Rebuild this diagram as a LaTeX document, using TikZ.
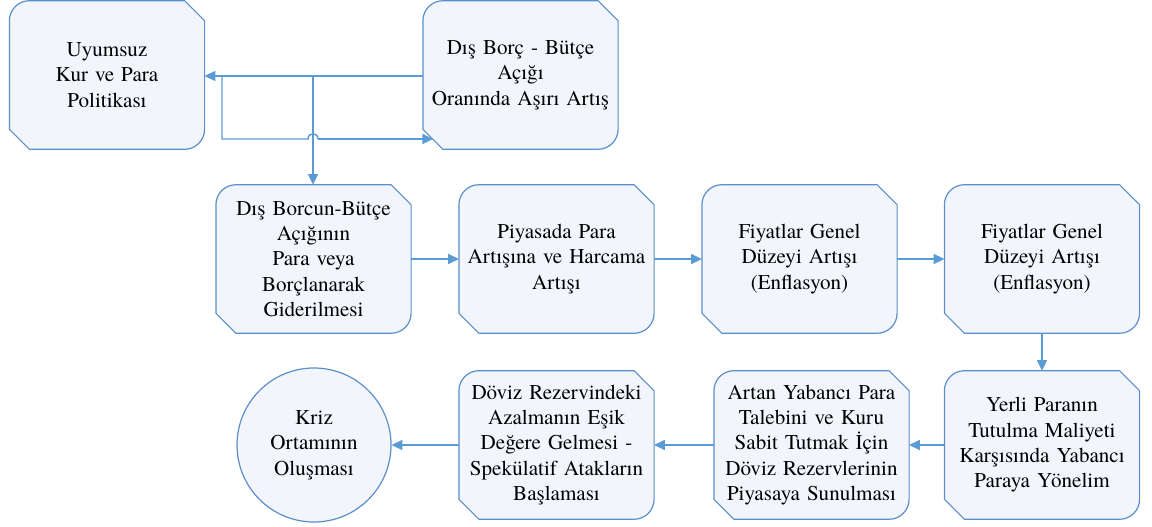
\documentclass[tikz,border=0pt]{standalone}
\usepackage{fontspec}
\setmainfont{texgyretermes-regular.otf}
\usetikzlibrary{arrows.meta,backgrounds}
\definecolor{edgeblue}{HTML}{5B8FCB}
\definecolor{arrowblue}{HTML}{5B9BD5}
\definecolor{tintblue}{HTML}{F2F5FB}
\tikzset{
  txtbox/.style={draw=none,inner sep=0pt,minimum width=146pt,minimum height=111pt,
    text width=146pt,align=center,font=\fontsize{15.8}{19}\selectfont},
  outline/.style={draw=edgeblue,line width=0.9pt,fill=tintblue},
  arr/.style={draw=arrowblue,line width=1.1pt,-{Triangle[length=8pt,width=7.5pt]}},
  plainline/.style={draw=arrowblue,line width=1.1pt},
}
\newcommand\snipshape[1]{%
  \path[outline] ([yshift=-15pt]#1.north west)
    .. controls ([yshift=-6.7pt]#1.north west) and ([xshift=6.7pt]#1.north west) .. ([xshift=15pt]#1.north west)
    -- ([xshift=-15pt]#1.north east) -- ([yshift=-15pt]#1.north east)
    -- ([yshift=15pt]#1.south east)
    .. controls ([yshift=6.7pt]#1.south east) and ([xshift=-6.7pt]#1.south east) .. ([xshift=-15pt]#1.south east)
    -- ([xshift=15pt]#1.south west) -- ([yshift=15pt]#1.south west) -- cycle;}
\begin{document}
\begin{tikzpicture}[x=0.75pt,y=-0.75pt]
\useasboundingbox (0,0) rectangle (1152,527);
\node[txtbox] (n1) at (107,75) {Uyumsuz\\Kur ve Para\\Politikası};
\node[txtbox] (n2) at (520.5,75) {Dış Borç - Bütçe\\Açığı\\Oranında Aşırı Artış};
\node[txtbox] (n3) at (313.5,259) {Dış Borcun-Bütçe\\Açığının\\Para veya\\Borçlanarak\\Giderilmesi};
\node[txtbox] (n4) at (556.5,259) {Piyasada Para\\Artışına ve Harcama\\Artışı};
\node[txtbox] (n5) at (799.5,259) {Fiyatlar Genel\\Düzeyi Artışı\\(Enflasyon)};
\node[txtbox] (n6) at (1042,259) {Fiyatlar Genel\\Düzeyi Artışı\\(Enflasyon)};
\node[txtbox] (n7) at (1042,445) {Yerli Paranın\\Tutulma Maliyeti\\Karşısında Yabancı\\Paraya Yönelim};
\node[txtbox] (n8) at (811.5,445) {Artan Yabancı Para\\Talebini ve Kuru\\Sabit Tutmak İçin\\Döviz Rezervlerinin\\Piyasaya Sunulması};
\node[txtbox] (n9) at (556.5,445) {Döviz Rezervindeki\\Azalmanın Eşik\\Değere Gelmesi -\\Spekülatif Atakların\\Başlaması};
\node[circle,draw=edgeblue,line width=0.9pt,fill=tintblue,
  minimum size=115.5pt,inner sep=0pt,align=center,font=\fontsize{15.8}{19}\selectfont] (n10) at (314,445) {Kriz\\Ortamının\\Oluşması};
\begin{pgfonlayer}{background}
\foreach \n in {n1,n2,n3,n4,n5,n6,n7,n8,n9}{\snipshape{\n}}
\end{pgfonlayer}
% top connectors
\coordinate (j1) at (222,76);
\coordinate (j2) at (222,139);
\coordinate (h1) at (308,139);
\coordinate (h2) at (318,139);
\coordinate (t2) at (433,139);
\coordinate (v1) at (313,76);
\draw[arr] (n2.west |- j1) -- (n1.east |- j1);
\draw[plainline] (j1) -- (j2) -- (h1) .. controls (308,132) and (318,132) .. (h2);
\draw[arr] (h2) -- (t2);
\draw[arr] (v1) -- (v1 |- n3.north);
% row 2
\draw[arr] (n3.east) -- (n4.west);
\draw[arr] (n4.east) -- (n5.west);
\draw[arr] (n5.east) -- (n6.west);
\draw[arr] (n6.south) -- (n7.north);
% row 3
\draw[arr] (n7.west) -- (n8.east);
\draw[arr] (n8.west) -- (n9.east);
\draw[arr] (n9.west) -- (n10.east);
\end{tikzpicture}
\end{document}
